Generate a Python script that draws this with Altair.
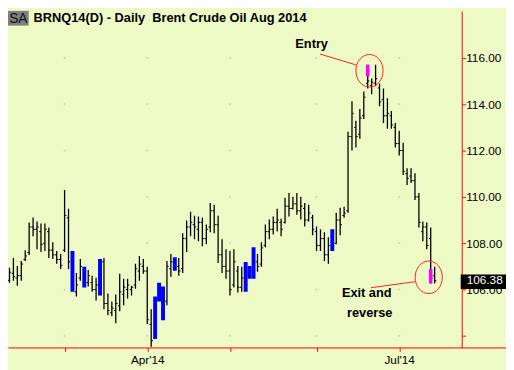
import altair as alt
import pandas as pd

title_text = "BRNQ14(D) - Daily\u00a0 Brent Crude Oil Aug 2014"

highs = [107.28,107.19,106.94,107.36,107.02,107.23,107.70,108.89,109.11,108.94,
         108.85,108.85,108.68,108.04,107.66,107.53,110.30,109.49,107.66,106.72,
         107.32,106.98,106.85,106.60,106.51,107.32,107.36,105.83,105.49,105.79,
         106.68,106.47,106.47,106.17,107.11,107.45,107.32,106.98,105.15,105.70,
         106.30,106.13,107.23,107.53,107.40,107.36,108.43,108.98,109.36,109.19,
         109.15,109.11,108.81,109.74,109.66,109.19,108.17,107.74,107.66,107.74,
         107.02,106.98,107.19,107.02,107.83,107.53,108.04,108.81,109.02,109.15,
         109.49,109.06,109.96,110.17,110.00,110.17,110.00,109.74,109.66,109.23,
         108.72,108.60,108.47,108.26,108.60,109.32,109.53,109.57,112.81,114.13,
         113.28,113.79,114.55,115.70,115.11,115.70,114.89,114.68,114.26,113.70,
         113.19,112.85,112.34,111.23,111.23,111.02,110.17,108.94,108.89,108.68,
         106.98]
lows = [104.81,106.13,106.30,106.38,106.17,106.38,107.23,107.49,108.30,107.74,
        107.62,107.66,107.36,107.32,107.11,106.89,107.62,106.89,105.91,105.70,
        106.38,106.09,106.13,105.91,105.53,105.74,105.15,104.89,104.85,104.55,
        105.06,105.32,105.62,105.74,106.04,106.38,106.68,104.51,103.53,103.87,
        105.49,104.68,105.32,106.55,106.81,106.60,106.72,107.62,108.30,108.17,
        108.09,107.87,107.96,108.47,108.43,107.15,106.72,106.47,105.74,106.09,
        105.87,105.91,105.91,106.47,106.47,106.77,106.98,107.83,108.17,108.38,
        108.51,108.30,108.85,109.15,109.45,109.23,109.02,108.72,108.94,108.34,
        107.66,107.66,107.23,107.11,107.66,107.96,108.34,109.10,109.32,112.00,
        112.13,112.51,113.36,114.68,114.43,114.77,113.91,113.19,112.94,112.94,
        112.13,111.79,110.94,110.51,110.60,109.87,108.68,108.09,107.74,106.26,
        106.26]
opens = [105.40,107.00,106.40,106.70,106.50,106.60,107.30,107.60,108.70,108.60,
         108.50,108.00,108.50,107.70,107.50,107.30,107.70,109.10,107.50,105.90,
         106.50,106.90,106.30,106.30,106.00,105.90,107.20,105.40,105.00,105.10,
         105.30,105.80,106.00,106.00,106.20,106.80,107.00,106.80,104.50,104.00,
         105.80,106.00,105.50,106.90,107.20,107.00,106.90,108.20,108.70,108.80,
         108.60,108.90,108.20,108.70,109.40,108.80,107.50,107.00,106.80,106.20,
         106.80,106.10,106.50,106.80,106.60,107.20,107.10,107.90,108.50,108.60,
         108.90,108.90,108.90,109.60,109.50,109.70,109.40,109.50,109.00,109.10,
         108.50,107.90,108.20,107.50,107.80,108.00,109.00,109.20,109.40,112.60,
         113.00,112.70,113.50,114.90,114.80,114.90,114.70,114.20,113.50,113.50,
         113.00,112.30,112.00,111.00,110.90,110.70,110.00,108.50,108.70,108.20,
         106.60]
closes = [107.00,106.30,106.75,106.55,106.60,107.10,107.45,108.70,108.60,108.70,
          107.95,108.60,107.70,107.50,107.30,107.05,109.20,107.20,106.00,106.20,
          107.00,106.20,106.60,106.00,106.20,107.10,105.40,105.10,105.20,105.40,
          105.90,106.10,106.20,106.10,106.90,107.10,106.80,104.70,103.80,105.50,
          106.10,105.00,107.00,107.20,107.00,106.80,108.20,108.70,108.90,108.70,
          108.90,108.20,108.60,109.40,108.80,107.50,107.00,106.80,106.00,107.20,
          106.10,106.50,106.70,106.60,107.50,107.00,107.80,108.50,108.60,108.90,
          109.00,108.60,109.60,109.50,109.70,109.40,109.60,109.00,109.30,108.60,
          107.90,108.20,107.50,107.90,108.00,109.00,108.80,109.30,112.60,113.60,
          112.60,113.40,114.30,115.00,114.95,115.10,114.10,113.50,113.60,113.10,
          112.30,112.00,111.10,110.80,110.70,110.00,108.90,108.70,107.90,106.50,
          106.38]

blue_idx = [18, 21, 25, 39, 40, 41, 44, 62, 63, 64, 84]
sig_idx = [93, 109]
sig_top = [115.70, 106.89]
sig_bot = [115.19, 106.26]

tick_idx = [16, 37, 58, 80, 101]
tick_lbl = ["", "Apr'14", "", "", "Jul'14"]
price_ticks = [104, 106, 108, 110, 112, 114, 116]
last_price = 106.38

# annotations (bar index, price)
circ_i = [93.45, 108.5]
circ_p = [115.44, 106.53]
line_i1 = [80.9, 93.8]
line_p1 = [116.16, 106.08]
line_i2 = [90.1, 105.05]
line_p2 = [115.69, 106.34]
note_txt = ["Entry", "Exit and", "reverse"]
note_i = [78.75, 92.75, 93.5]
note_p = [116.58, 105.84, 105.0]

BG = "#EEFAC6"
FONT = "Liberation Sans"

n = len(highs)
df = pd.DataFrame({"i": list(range(n)), "o": opens, "h": highs, "l": lows, "c": closes})
df["ol"] = df["i"] - 0.45
df["cr"] = df["i"] + 0.45
df["bl"] = df["i"] - 0.5
df["br"] = df["i"] + 0.5
df["blue"] = df["i"].isin(blue_idx)
black = df[~df["blue"]]
blue = df[df["blue"]]

sig = pd.DataFrame({"i": sig_idx, "t": sig_top, "b": sig_bot})
sig["l"] = sig["i"] - 0.45
sig["r"] = sig["i"] + 0.45

xs = alt.Scale(domain=[1.625, 116.875], nice=False, zero=False)
ys = alt.Scale(domain=[103.503, 118.025], nice=False, zero=False)

lbl_expr = " : ".join(
    [f"datum.value == {v} ? \"{t}\"" for v, t in zip(tick_idx, tick_lbl) if t]
) + " : ''"

xaxis = alt.Axis(values=tick_idx, labelExpr=lbl_expr, domainColor="red", tickColor="red",
                 tickSize=4, labelFont=FONT, labelFontSize=12, labelColor="black",
                 labelPadding=3, grid=False, title=None, labelFlush=False, labelOverlap=False)
yaxis = alt.Axis(orient="right", values=price_ticks,
                 labelExpr="datum.value == 104 ? '' : format(datum.value, '.2f')",
                 domainColor="red", tickColor="red", tickSize=4, labelFont=FONT,
                 labelFontSize=12, labelColor="black", labelPadding=0, grid=False, title=None)


def X(f):
    return alt.X(f, scale=xs, axis=xaxis, title=None)


def Y(f):
    return alt.Y(f, scale=ys, axis=yaxis, title=None)


# grid dots
gd = pd.DataFrame([(t, p) for t in tick_idx for p in price_ticks], columns=["i", "p"])
dots = alt.Chart(gd).mark_point(shape="cross", size=5, filled=True, color="#bdbdbd").encode(
    x=X("i:Q"), y=Y("p:Q"))

bars = alt.Chart(black).mark_rule(color="black", strokeWidth=1.3, clip=True).encode(
    x=X("i:Q"), y=Y("h:Q"), y2="l:Q")
otick = alt.Chart(black).mark_rule(color="black", strokeWidth=1, clip=True).encode(
    x=X("ol:Q"), x2="i:Q", y=Y("o:Q"))
ctick = alt.Chart(black).mark_rule(color="black", strokeWidth=1, clip=True).encode(
    x=X("i:Q"), x2="cr:Q", y=Y("c:Q"))
bluebars = alt.Chart(blue).mark_rect(color="#0000FF", clip=True).encode(
    x=X("bl:Q"), x2="br:Q", y=Y("h:Q"), y2="l:Q")
sigbars = alt.Chart(sig).mark_rect(color="#FF00FF", clip=True).encode(
    x=X("l:Q"), x2="r:Q", y=Y("t:Q"), y2="b:Q")

circ = pd.DataFrame({"i": circ_i, "p": circ_p})
circles = alt.Chart(circ).mark_point(
    shape="M0,-1.2A1,1.2,0,1,1,0,1.2A1,1.2,0,1,1,0,-1.2Z", size=762, filled=False,
    stroke="#FF2020", strokeWidth=1, opacity=1).encode(x=X("i:Q"), y=Y("p:Q"))

ln = pd.DataFrame({"i1": line_i1, "p1": line_p1, "i2": line_i2, "p2": line_p2})
lines = alt.Chart(ln).mark_rule(color="#FF2020", strokeWidth=1).encode(
    x=X("i1:Q"), y=Y("p1:Q"), x2="i2:Q", y2="p2:Q")

nt = pd.DataFrame({"t": note_txt, "i": note_i, "p": note_p})
notes = alt.Chart(nt).mark_text(font=FONT, fontSize=13, fontWeight="bold", color="black",
                                align="center", baseline="middle").encode(
    x=X("i:Q"), y=Y("p:Q"), text="t:N")

# right-side last price box
lp = pd.DataFrame({"p": [last_price], "pt": [last_price + 0.27], "pb": [last_price - 0.35],
                   "txt": [f"{last_price:.2f}"]})
lpbox = alt.Chart(lp).mark_rect(color="black", clip=False).encode(
    x=alt.value(460), x2=alt.value(506), y=Y("pt:Q"), y2="pb:Q")
lptext = alt.Chart(lp).mark_text(font=FONT, fontSize=12, color="white", align="left",
                                 baseline="middle", dy=-1).encode(
    x=alt.value(466), y=Y("p:Q"), text="txt:N")

# red axis line extension to the right edge
ext = alt.Chart(lp).mark_rule(color="red", strokeWidth=1, clip=False).encode(
    x=alt.value(461), x2=alt.value(506), y=alt.value(342.5))

# title
tt = pd.DataFrame({"sa": ["SA"], "t": [title_text]})
sabox = alt.Chart(tt).mark_rect(color="#7F7F7F").encode(
    x=alt.value(0), x2=alt.value(21), y=alt.value(0), y2=alt.value(15))
satext = alt.Chart(tt).mark_text(font=FONT, fontSize=14, color="#111111", align="center",
                                 baseline="middle").encode(
    x=alt.value(10.5), y=alt.value(8), text="sa:N")
ttext = alt.Chart(tt).mark_text(font=FONT, fontSize=13, fontWeight="bold", color="black",
                                align="left", baseline="middle").encode(
    x=alt.value(26), y=alt.value(7.5), text="t:N")

chart = alt.layer(dots, bars, otick, ctick, bluebars, sigbars, circles, lines, notes,
                  lpbox, lptext, ext, sabox, satext, ttext).properties(
    width=461, height=342,
    autosize=alt.AutoSizeParams(type="none"),
    padding={"left": 0, "top": 0, "right": 45, "bottom": 20},
    background=BG,
).configure_view(stroke=None, fill=BG)

chart.save("out.html", embed_options={"renderer": "svg", "actions": False})
